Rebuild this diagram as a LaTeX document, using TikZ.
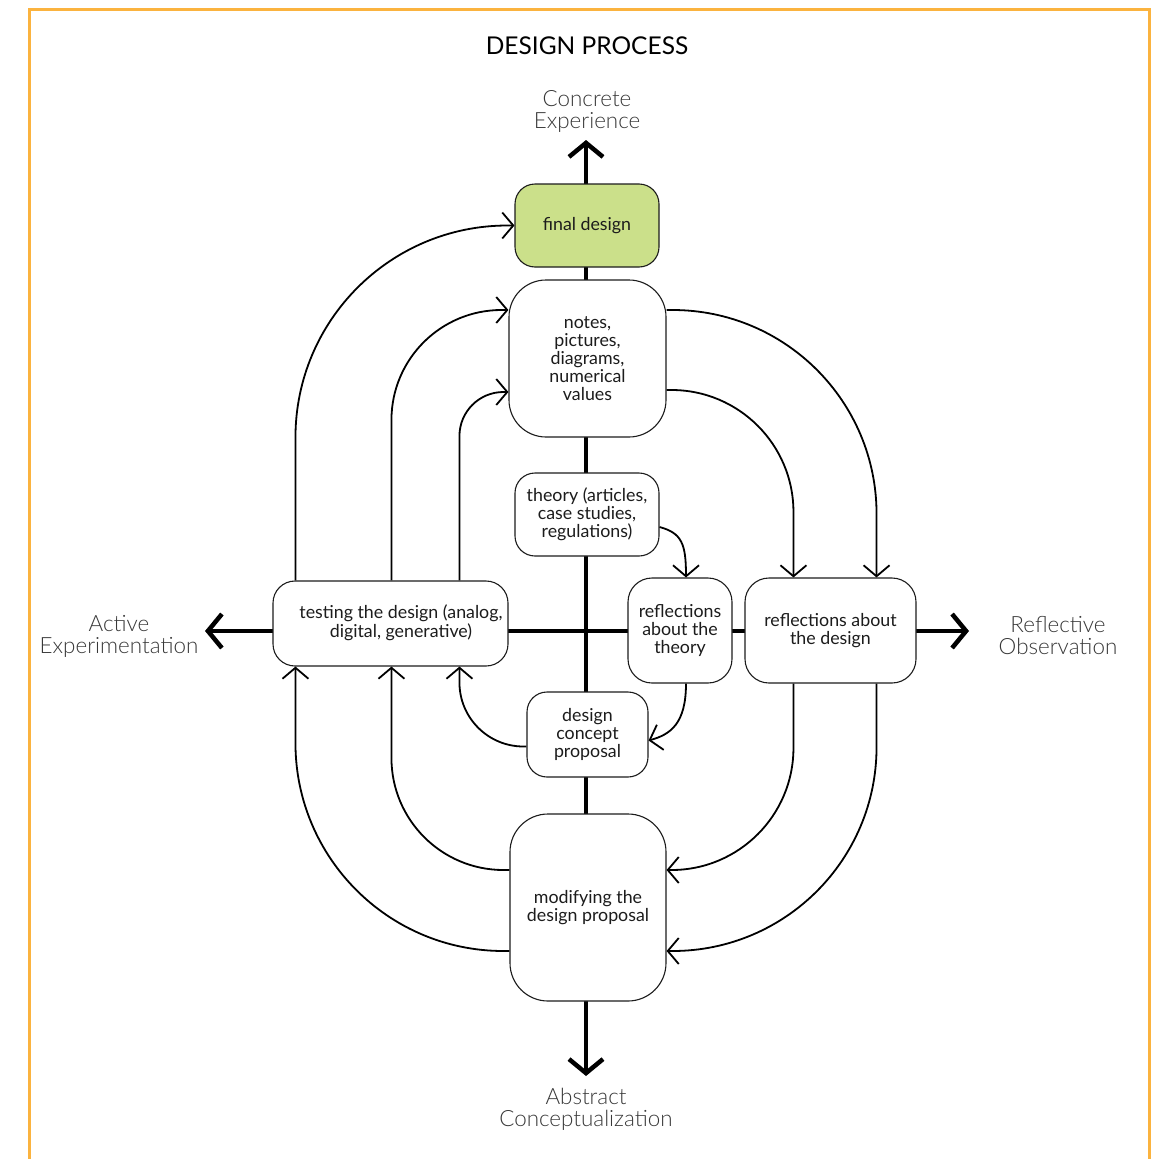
\documentclass[tikz,border=0pt]{standalone}
\usepackage{fontspec}
\setmainfont{Lato}
\newfontfamily\lightfont{Lato Light}
\usetikzlibrary{arrows.meta}

\definecolor{frameorange}{HTML}{FBB33F}
\definecolor{finalgreen}{HTML}{CBE08A}
\definecolor{inkgray}{HTML}{1C1C1C}
\definecolor{axisgray}{HTML}{383838}

\begin{document}
\begin{tikzpicture}[x=1pt,y=-1pt,
  box/.style={draw=inkgray, line width=1.1pt, fill=white, align=center,
    inner sep=0pt, text=inkgray, font=\fontsize{17.8}{18}\selectfont},
  conn/.style={draw=black, line width=1.8pt,
    -{Straight Barb[length=11pt,width=26pt]}},
  axisline/.style={draw=black, line width=4.5pt,
    -{Straight Barb[length=14pt,width=34pt]}},
  axlabel/.style={font=\lightfont\fontsize{22.4}{22}\selectfont,
    text=axisgray, align=center},
]
\useasboundingbox (0,0) rectangle (1156,1159);

% outer frame, open at the bottom
\draw[frameorange, line width=3pt] (29,1162) -- (29,9) -- (1149,9) -- (1149,1162);

% title
\node[font=\fontsize{24.5}{28}\selectfont, text=black] (title) at (587,46) {DESIGN PROCESS};

% the two axes of the learning cycle
\coordinate (origin) at (586,631);
\coordinate (axtop) at (586,140);
\coordinate (axbot) at (586,1076);
\coordinate (axleft) at (205,631);
\coordinate (axright) at (969,631);
\draw[axisline] (origin) -- (axtop);
\draw[axisline] (origin) -- (axbot);
\draw[axisline] (origin) -- (axleft);
\draw[axisline] (origin) -- (axright);

\node[axlabel] (lblCE) at (587,111) {Concrete\\Experience};
\node[axlabel] (lblAE) at (119,636) {Active\\Experimentation};
\node[axlabel] (lblRO) at (1058,636) {Reflective\\Observation};
\node[axlabel] (lblAC) at (586,1109) {Abstract\\Conceptualization};

% stages
\node[box, fill=finalgreen, minimum width=144pt, minimum height=83pt, rounded corners=20pt]
  (final) at (587,225.5) {final design};
\node[box, minimum width=157pt, minimum height=157pt, rounded corners=37pt]
  (notes) at (587.5,358.5) {notes,\\pictures,\\diagrams,\\numerical\\values};
\node[box, minimum width=144pt, minimum height=83pt, rounded corners=20pt]
  (theory) at (587,514.5) {theory (articles,\\case studies,\\regulations)};
\node[box, minimum width=104pt, minimum height=105pt, rounded corners=24pt]
  (refth) at (680,630.5) {reflections\\about the\\theory};
\node[box, minimum width=171pt, minimum height=105pt, rounded corners=24pt]
  (refds) at (830.5,630.5) {reflections about\\the design};
\node[box, minimum width=235pt, minimum height=85pt, rounded corners=22pt]
  (test) at (390.5,623.5) {\hspace*{21pt}\begin{tabular}{@{}c@{}}testing the design (analog,\\digital, generative)\end{tabular}};
\node[box, minimum width=121pt, minimum height=85pt, rounded corners=20pt]
  (concept) at (587.5,734.5) {design\\concept\\proposal};
\node[box, minimum width=156pt, minimum height=187pt, rounded corners=38pt]
  (modify) at (588,907.5) {modifying the\\design proposal};

% loops from testing up to the records and the final design
\draw[conn, rounded corners=212pt] ([xshift=23pt]test.north west) |- (final.west);
\draw[conn, rounded corners=110pt] ([xshift=119pt]test.north west) |- ([yshift=48.5pt]notes.west);
\draw[conn, rounded corners=44pt] ([xshift=187pt]test.north west) |- ([yshift=-33.5pt]notes.west);

% records feed the reflections
\draw[conn, rounded corners=204pt] ([yshift=48.5pt]notes.east) -| ([xshift=-40pt]refds.north east);
\draw[conn, rounded corners=122pt] ([yshift=-31.5pt]notes.east) -| ([xshift=49pt]refds.north west);

% inner loop through the theory
\draw[conn] ([yshift=-12.5pt]theory.east) .. controls +(22,6) and +(0,-34) .. ([xshift=6pt]refth.north);
\draw[conn] ([xshift=6pt]refth.south) .. controls +(0,40) and +(22,-6) .. ([yshift=-6pt]concept.east);
\draw[conn, rounded corners=64pt] ([yshift=-12pt]concept.west) -| ([xshift=187pt]test.south west);

% reflections lead to modifying, which goes back to testing
\draw[conn, rounded corners=122pt] ([xshift=49pt]refds.south west) |- ([yshift=37.5pt]modify.east);
\draw[conn, rounded corners=204pt] ([xshift=-40pt]refds.south east) |- ([yshift=-43.5pt]modify.east);
\draw[conn, rounded corners=112pt] ([yshift=37.5pt]modify.west) -| ([xshift=119pt]test.south west);
\draw[conn, rounded corners=208pt] ([yshift=-43.5pt]modify.west) -| ([xshift=23pt]test.south west);
\end{tikzpicture}
\end{document}
